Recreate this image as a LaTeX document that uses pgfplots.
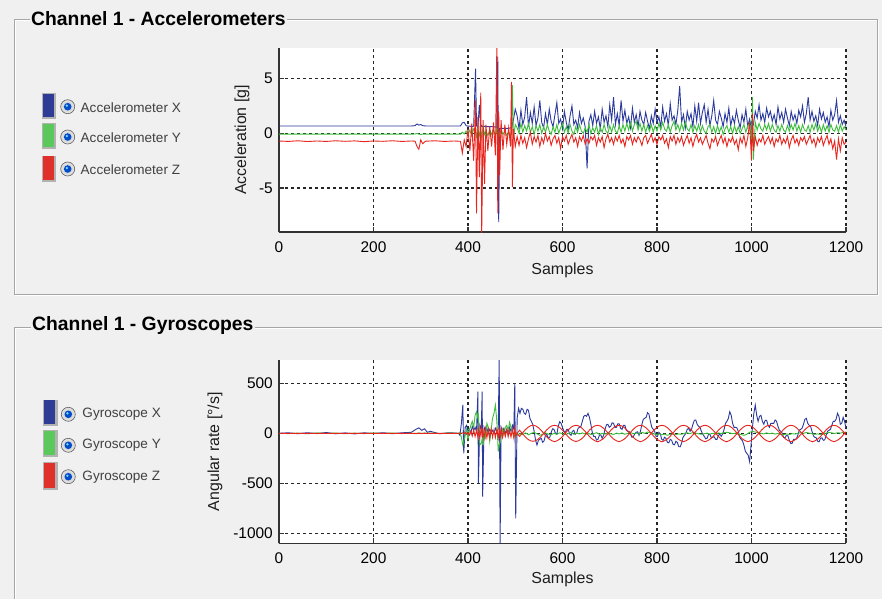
\documentclass[border=0pt]{standalone}
\usepackage{fontspec}
\setmainfont{Liberation Sans}
\usepackage{pgfplots}
\usepackage{pgfplotstable}
\pgfplotsset{compat=1.18}
\definecolor{bg}{HTML}{F0F0F0}
\definecolor{sblue}{HTML}{2B3A9E}
\definecolor{sgreen}{HTML}{3DBE3D}
\definecolor{sred}{HTML}{E8251E}
\definecolor{bblue}{HTML}{2E3C96}
\definecolor{bgreen}{HTML}{5AC85A}
\definecolor{bred}{HTML}{E0302A}
\definecolor{axgray}{HTML}{333333}
\definecolor{txt}{HTML}{1E1E1E}

\pgfplotstableread{
x ax ay az
0 0.67 -0.08 -0.70
20 0.67 -0.08 -0.74
40 0.67 -0.08 -0.68
60 0.67 -0.07 -0.75
80 0.67 -0.08 -0.70
100 0.67 -0.08 -0.74
120 0.67 -0.08 -0.68
140 0.67 -0.08 -0.73
160 0.67 -0.08 -0.69
180 0.67 -0.08 -0.76
200 0.67 -0.08 -0.70
220 0.67 -0.08 -0.73
240 0.67 -0.08 -0.68
260 0.67 -0.08 -0.74
280 0.67 -0.08 -0.70
288 0.70 -0.06 -0.72
292 0.85 0.00 -1.20
296 0.75 -0.08 -1.45
300 0.80 -0.10 -0.60
304 0.70 -0.08 -0.95
310 0.67 -0.08 -0.72
330 0.67 -0.08 -0.68
350 0.67 -0.08 -0.74
370 0.67 -0.08 -0.70
380 0.67 -0.08 -0.72
384 0.67 -0.08 -0.72
388 0.95 0.10 -1.8
392 1.00 -0.05 -0.6
396 0.70 0.20 -1.2
400 0.65 -0.10 0.4
404 0.66 0.30 -1.6
408 0.60 -0.20 0.9
412 0.65 0.40 -2.5
416 5.90 0.10 3.0
418 0.70 -0.30 -7.3
421 0.55 0.50 1.5
424 2.60 -0.20 -4.0
427 0.60 0.30 3.7
429 0.70 -0.40 -9.1
432 0.55 0.60 1.2
435 0.65 -0.10 -4.6
438 0.60 0.20 0.8
442 0.62 -0.20 -1.6
446 0.60 0.30 0.6
450 0.62 -0.10 -1.2
454 0.58 0.40 1.0
458 0.60 -0.30 -2.0
461 0.50 0.50 7.9
463 7.00 -0.40 -7.3
465 -8.10 0.20 2.0
467 0.45 -0.20 -3.8
470 0.45 0.30 1.2
474 0.45 -0.10 -1.5
478 0.45 0.20 0.8
482 0.45 -0.20 -1.0
486 0.45 0.10 0.5
490 0.50 -0.30 -1.2
492 0.50 0.20 4.7
494 0.80 4.40 -4.9
496 1.20 -0.50 0.4
500 2.20 0.80 -1.2
504 1.6 0.5 -0.3
508 0.4 0.0 -1.1
512 2.1 0.9 -0.2
516 0.8 0.1 -0.9
520 1.5 0.7 -0.4
524 3.3 0.2 -1.3
528 0.6 0.9 -0.5
532 1.9 0.1 0.1
536 0.9 0.6 -1.0
540 2.4 -0.1 -0.3
544 0.7 0.7 -0.8
548 1.4 0.2 -0.2
552 3.0 0.8 -1.2
556 1.0 0.0 -0.4
560 0.5 0.6 -0.9
564 1.8 0.1 0.0
568 0.8 0.8 -0.7
572 2.2 0.2 -0.3
576 1.1 -0.1 -1.1
580 0.6 0.6 -0.5
584 1.7 0.1 -0.2
588 2.8 0.8 -0.9
592 0.9 0.0 -0.4
596 1.3 0.5 -1.4
600 0.4 0.9 -0.3
604 2.0 0.1 -0.7
608 1.0 0.6 -0.2
612 0.3 0.0 -1.0
616 1.6 0.8 -0.5
620 2.5 0.2 -0.1
624 0.8 -0.1 -0.8
628 1.2 0.6 -0.4
632 0.5 0.1 -1.2
636 1.9 0.8 -0.3
640 0.9 0.2 -0.7
644 1.4 0.0 -0.2
648 0.6 0.5 -1.0
652 -3.2 0.1 -0.5
656 1.1 0.8 -0.9
660 1.7 0.0 -0.3
664 0.7 0.5 -0.6
668 2.0 0.1 -0.2
672 0.9 0.7 -1.1
676 1.5 -0.1 -0.4
680 0.4 0.5 -0.8
684 2.2 0.1 -0.3
688 1.0 0.8 -1.3
692 1.6 0.2 -0.5
696 0.6 0.0 -0.1
700 2.6 0.7 -0.8
704 1.2 0.1 -0.4
708 3.3 0.8 -1.0
712 0.8 0.2 -0.3
716 1.8 0.0 -0.7
720 0.7 0.7 -0.2
724 3.0 0.1 -0.9
728 1.1 0.8 -0.5
732 2.1 0.2 -1.2
736 0.9 0.9 -0.3
740 1.5 0.3 -0.6
744 0.5 1.0 -0.2
748 2.3 0.2 -1.0
752 1.0 0.8 -0.4
756 1.7 1.1 -0.8
760 0.6 0.3 -0.3
764 2.0 0.9 -0.6
768 1.2 0.2 -1.1
772 0.8 0.8 -0.4
776 1.9 0.1 -0.2
780 1.1 0.7 -0.9
784 0.4 0.2 -0.5
788 1.6 0.8 -0.1
792 0.9 0.1 -0.8
796 2.2 0.7 -0.4
800 1.0 0.2 -1.0
804 1.5 0.9 -0.3
808 0.6 0.3 -0.6
812 2.4 1.0 -0.2
816 1.1 0.4 -0.9
820 1.8 0.2 -0.5
824 0.7 0.8 -1.3
828 2.7 0.1 -0.3
832 1.2 0.7 -0.7
836 1.6 1.1 -0.2
840 0.8 0.3 -1.0
844 2.1 0.8 -0.4
848 4.3 0.2 -0.8
852 1.0 0.9 -0.3
856 1.7 0.3 -1.1
860 0.5 1.0 -0.6
864 2.0 0.4 -0.2
868 1.2 0.2 -0.9
872 1.8 0.8 -0.4
876 0.6 0.1 -1.2
880 2.5 0.7 -0.5
884 1.1 0.2 -0.1
888 2.8 0.8 -0.8
892 0.9 0.1 -0.4
896 1.9 0.7 -1.0
900 2.6 0.2 -0.6
904 1.0 0.0 -0.2
908 2.2 0.6 -0.9
912 0.7 0.8 -1.4
916 1.6 0.1 -0.5
920 3.0 0.6 -0.8
924 1.2 0.0 -0.3
928 0.8 0.7 -1.1
932 2.0 0.1 -0.6
936 1.4 0.6 -0.2
940 0.6 -0.1 -0.9
944 1.8 0.4 -0.4
948 1.0 0.7 -1.2
952 2.3 0.1 -0.5
956 0.7 0.6 -0.8
960 1.5 0.0 -0.3
964 0.9 0.7 -1.0
968 2.1 0.1 -0.6
972 1.2 0.6 -1.5
976 0.5 0.0 -0.4
980 1.7 0.4 -0.9
984 1.0 0.8 -0.2
988 2.2 0.1 -1.2
992 0.6 0.7 -0.4
996 1.3 0.9 1.0
1000 0.4 -0.6 -2.5
1002 1.0 3.3 1.8
1004 0.8 -2.4 -1.6
1008 2.0 1.0 -0.3
1012 1.4 0.3 -1.1
1016 2.6 0.9 -0.5
1020 1.2 0.4 -0.8
1024 1.8 0.2 -0.2
1028 1.0 0.8 -1.0
1032 2.3 0.3 -0.6
1036 1.5 0.9 -0.3
1040 2.0 0.2 -0.9
1044 1.1 0.8 -0.4
1048 1.7 0.3 -1.2
1052 0.8 0.1 -0.5
1056 2.4 0.7 -0.8
1060 1.3 0.2 -0.2
1064 1.9 0.8 -1.0
1068 1.0 0.3 -0.5
1072 2.2 0.1 -0.9
1076 1.4 0.7 -0.3
1080 0.7 0.2 -1.3
1084 2.0 0.8 -0.6
1088 1.2 0.3 -0.2
1092 1.7 0.9 -0.9
1096 0.9 0.2 -0.5
1100 2.1 0.7 -1.1
1104 1.5 0.1 -0.4
1108 2.5 0.8 -0.7
1112 1.0 0.3 -0.3
1116 1.8 0.2 -1.0
1120 3.3 0.7 -0.6
1124 1.2 0.1 -0.2
1128 2.0 0.8 -0.9
1132 1.1 0.3 -0.5
1136 1.6 0.9 -1.2
1140 0.7 0.2 -0.4
1144 2.2 0.7 -0.8
1148 1.3 0.1 -0.3
1152 1.9 0.8 -1.1
1156 1.0 0.2 -0.6
1160 1.5 0.7 -0.2
1164 0.6 0.1 -1.0
1168 2.1 0.8 -0.5
1172 1.2 0.3 -1.4
1176 1.7 0.2 -0.7
1180 3.0 0.7 -2.4
1184 1.0 0.1 -0.5
1188 1.6 0.8 -1.6
1192 0.8 0.2 -0.4
1196 1.2 0.6 -1.0
1200 0.6 0.3 -0.8
}\acctable

% gyroscope X
\pgfplotstableread{
x gx
0 0
20 5
40 -4
60 6
80 -3
100 8
120 -5
140 4
160 -6
180 5
200 -3
220 6
240 -4
260 5
280 10
290 40
296 55
302 30
308 45
314 10
320 20
340 -5
360 6
380 0
383 -20
386 100
389 283
391 -200
394 60
397 80
400 20
403 40
406 0
409 70
412 30
415 60
418 20
421 416
422 -497
425 80
428 40
430 416
431 -634
434 60
437 20
440 50
443 0
446 40
449 10
452 30
455 0
458 50
461 20
464 40
466 740
468 -1100
470 60
473 20
476 50
479 0
482 40
485 10
488 60
491 20
494 80
497 40
499 500
501 -850
504 150
507 250
510 200
513 250
516 240
519 200
522 190
525 240
528 230
531 150
534 120
537 90
540 20
543 -70
546 -117
549 -70
552 -60
555 -50
558 -90
561 -75
564 -20
567 -10
570 -50
573 -40
576 10
579 45
582 40
585 0
588 -10
591 70
594 116
597 100
600 60
603 20
606 10
609 40
612 40
615 -5
618 -20
621 20
624 30
627 -10
630 0
633 50
636 60
639 70
642 120
645 170
648 180
651 170
654 200
657 160
660 90
663 10
666 -30
669 -30
672 -67
675 -60
678 -20
681 -15
684 -50
687 -20
690 40
693 85
696 90
699 60
702 70
705 105
708 100
711 60
714 60
717 95
720 95
723 50
726 40
729 80
732 80
735 30
738 20
741 20
744 -10
747 -40
750 -34
753 -5
756 10
759 15
762 -20
765 20
768 90
771 140
774 150
777 160
780 206
783 190
786 120
789 60
792 40
795 20
798 -30
801 -30
804 10
807 -5
810 -60
813 -70
816 -40
819 -50
822 -90
825 -95
828 -60
831 -70
834 -110
837 -115
840 -80
843 -90
846 -134
849 -135
852 -100
855 -40
858 -20
861 0
864 40
867 50
870 20
873 40
876 90
879 130
882 133
885 90
888 70
891 60
894 20
897 -10
900 -30
903 -55
906 -50
909 -10
912 -10
915 -45
918 -40
921 -35
924 -60
927 -60
930 -20
933 -10
936 -30
939 -5
942 40
945 100
948 120
951 150
954 216
957 180
960 100
963 60
966 60
969 55
972 20
975 -40
978 -60
981 -75
984 -120
987 -180
990 -200
993 -220
996 -284
999 -120
1002 60
1005 200
1008 283
1011 180
1014 120
1017 170
1020 180
1023 120
1026 90
1029 130
1032 130
1035 80
1038 60
1041 100
1044 100
1047 100
1050 133
1053 120
1056 70
1059 30
1062 20
1065 0
1068 -40
1071 -45
1074 -20
1077 -25
1080 -70
1083 -100
1086 -100
1089 -60
1092 -60
1095 -55
1098 -20
1101 30
1104 40
1107 50
1110 90
1113 140
1116 150
1119 100
1122 80
1125 70
1128 20
1131 -25
1134 -40
1137 -45
1140 -80
1143 -85
1146 -50
1149 -45
1152 -70
1155 -65
1158 -20
1161 20
1164 30
1167 40
1170 80
1173 120
1176 120
1179 140
1182 200
1185 170
1188 90
1191 100
1194 160
1197 120
1200 50
}\gyrobx

% gyroscope Y
\pgfplotstableread{
x gy
0 0
20 -3
40 2
60 -5
80 4
100 -2
120 3
140 -4
160 2
180 -3
200 4
220 -2
240 3
260 -3
280 2
290 -5
296 5
302 -3
308 4
314 -2
320 3
340 -2
360 3
380 0
383 10
386 -40
389 -117
391 -80
394 -20
397 40
400 -60
403 30
406 80
409 120
412 60
415 180
418 216
421 150
422 200
425 -117
428 -100
430 -60
431 -117
434 20
437 -40
440 100
443 60
446 -80
449 40
452 150
455 200
458 283
461 120
464 -183
466 -120
468 -80
470 -30
473 40
476 -20
479 60
482 80
485 30
488 110
491 60
494 20
497 -40
499 -20
501 10
504 -20
507 -10
510 -5
516 -10
522 5
528 -15
534 0
540 10
546 -5
552 -20
558 -10
564 5
570 -8
576 -15
582 0
588 -10
594 5
600 -5
606 -12
612 -3
618 8
624 -10
630 0
636 -6
642 4
648 -8
654 2
660 -12
666 -4
672 6
678 -10
684 0
690 -8
696 5
702 -4
708 -12
714 2
720 -6
726 4
732 -10
738 0
744 8
750 -5
756 3
762 -8
768 10
774 0
780 12
786 5
792 -4
798 -12
804 -6
810 -15
816 -8
822 -20
828 -10
834 -5
840 -12
846 -6
852 -10
858 0
864 5
870 -3
876 8
882 2
888 -5
894 -10
900 -4
906 2
912 -8
918 0
924 -6
930 4
936 -2
942 6
948 10
954 4
960 -4
966 2
972 -6
978 -12
984 -20
990 -10
996 10
1002 20
1008 12
1014 6
1020 0
1026 -6
1032 4
1038 -4
1044 2
1050 -8
1056 0
1062 -10
1068 -14
1074 -6
1080 -12
1086 -4
1092 -8
1098 0
1104 6
1110 0
1116 8
1122 2
1128 -4
1134 -10
1140 -6
1146 -12
1152 -4
1158 2
1164 8
1170 4
1176 -2
1182 6
1188 2
1194 8
1200 10
}\gyroby

% gyroscope Z (two interleaved traces after sample 505)
\pgfplotstableread{
x r1 r2
0 0 nan
200 0 nan
380 0 nan
383 0 nan
386 2 nan
389 5 nan
391 -5 nan
394 8 nan
397 -10 nan
400 12 nan
403 -18 nan
406 22 nan
409 -28 nan
412 35 nan
415 -32 nan
418 30 nan
421 -40 nan
422 42 nan
425 -50 nan
428 55 nan
430 -40 nan
431 50 nan
434 -55 nan
437 48 nan
440 -45 nan
443 40 nan
446 -48 nan
449 42 nan
452 -40 nan
455 35 nan
458 -42 nan
461 40 nan
464 -48 nan
466 55 nan
468 -52 nan
470 45 nan
473 -40 nan
476 35 nan
479 -30 nan
482 38 nan
485 -35 nan
488 30 nan
491 -38 nan
494 42 nan
497 -45 nan
499 50 nan
501 -30 nan
504 0 0
509.1 31 -31
514.8 0 0
520.4 -31 31
526.1 -57 57
531.8 -74 74
537.5 -80 82
543.2 -74 74
548.9 -57 57
554.6 -31 31
560.3 0 0
565.9 31 -31
571.6 57 -57
577.3 74 -74
583.0 80 -84
588.7 74 -74
594.4 57 -57
600.1 31 -31
605.8 0 0
611.4 -31 31
617.1 -57 57
622.8 -74 74
628.5 -82 80
634.2 -74 74
639.9 -57 57
645.6 -31 31
651.3 0 0
656.9 31 -31
662.6 57 -57
668.3 74 -74
674.0 80 -85
679.7 74 -74
685.4 57 -57
691.1 31 -31
696.8 0 0
702.4 -31 31
708.1 -57 57
713.8 -74 74
719.5 -84 80
725.2 -74 74
730.9 -57 57
736.6 -31 31
742.3 0 0
747.9 31 -31
753.6 57 -57
759.3 74 -74
765.0 80 -84
770.7 74 -74
776.4 57 -57
782.1 31 -31
787.8 0 0
793.4 -31 31
799.1 -57 57
804.8 -74 74
810.5 -85 80
816.2 -74 74
821.9 -57 57
827.6 -31 31
833.3 0 0
838.9 31 -31
844.6 57 -57
850.3 74 -74
856.0 80 -84
861.7 74 -74
867.4 57 -57
873.1 31 -31
878.8 0 0
884.4 -31 31
890.1 -57 57
895.8 -74 74
901.5 -84 80
907.2 -74 74
912.9 -57 57
918.6 -31 31
924.3 0 0
929.9 31 -31
935.6 57 -57
941.3 74 -74
947.0 80 -85
952.7 74 -74
958.4 57 -57
964.1 31 -31
969.8 0 0
975.4 -31 31
981.1 -57 57
986.8 -74 74
992.5 -84 80
998.2 -74 74
1003.9 -57 57
1009.6 -31 31
1015.3 0 0
1020.9 31 -31
1026.6 57 -57
1032.3 74 -74
1038.0 80 -84
1043.7 74 -74
1049.4 57 -57
1055.1 31 -31
1060.8 0 0
1066.4 -31 31
1072.1 -57 57
1077.8 -74 74
1083.5 -84 80
1089.2 -74 74
1094.9 -57 57
1100.6 -31 31
1106.3 0 0
1111.9 31 -31
1117.6 57 -57
1123.3 74 -74
1129.0 80 -85
1134.7 74 -74
1140.4 57 -57
1146.1 31 -31
1151.8 0 0
1157.4 -31 31
1163.1 -57 57
1168.8 -74 74
1174.5 -84 80
1180.2 -74 74
1185.9 -57 57
1191.6 -31 31
1197.3 0 0
1200 15 -15
}\gyrobz

\pgfplotsset{
  panelaxis/.style={
    scale only axis, width=567bp, xmin=0, xmax=1200,
    axis x line=bottom, axis y line=left,
    axis line style={axgray, line width=1.6bp, -},
    axis background/.style={fill=white},
    xtick={0,200,400,600,800,1000,1200},
    xticklabels={0,200,400,600,800,1000,1200},
    tick align=inside, major tick length=5bp,
    tick style={axgray, line width=1.3bp},
    grid=major,
    major grid style={black!85, line width=1.3bp, dash pattern=on 3bp off 3bp},
    unbounded coords=discard,
    tick label style={font=\fontsize{15.5}{16}\selectfont, text=black},
    xticklabel style={anchor=base, inner sep=0pt, yshift=-20.5bp},
    yticklabel style={anchor=east, inner sep=0pt, xshift=-6bp},
    label style={font=\fontsize{16}{16}\selectfont, text=txt},
    xlabel={Samples},
  }
}

\begin{document}
\begin{tikzpicture}
\useasboundingbox (0,0) rectangle (882bp,-599bp);
\clip (0,0) rectangle (882bp,-599bp);
\fill[bg] (0,0) rectangle (882bp,-599bp);
\begin{scope}[x=1bp,y=-1bp]
  % panel frames (etched)
  \draw[white, line width=1bp] (15,20) rectangle (878,295);
  \draw[gray!70, line width=1bp] (14,19) rectangle (877,294);
  \draw[white, line width=1bp] (15,328) rectangle (895,620);
  \draw[gray!70, line width=1bp] (14,327) rectangle (894,620);
  % titles
  \node[fill=bg, anchor=west, inner sep=1.5bp, font=\fontsize{19.4}{22}\bfseries\selectfont, text=black] at (29.5,19) {Channel 1 - Accelerometers};
  \node[fill=bg, anchor=west, inner sep=1.5bp, font=\fontsize{19.4}{22}\bfseries\selectfont, text=black] at (30.5,326) {Channel 1 - Gyroscopes};
  % legend buttons, top
  \foreach \c/\yt/\yb/\ym/\lab in {bblue/93/119/106.7/{Accelerometer X}, bgreen/123/149/137/{Accelerometer Y}, bred/155.5/182/169/{Accelerometer Z}}{
    \fill[gray!60] (41.5,\yt) rectangle (56,\yb);
    \fill[\c] (42.5,\yt+0.8) rectangle (54,\yb-2);
    \fill[gray!25] (67.7,\ym) circle (7bp);
    \draw[gray!75!black, line width=0.6bp] (67.7,\ym) circle (7bp);
    \fill[white!70!gray] (67.7,\ym) circle (5.2bp);
    \fill[black!30!blue!70!cyan] (67.7,\ym) circle (3.8bp);
    \fill[cyan!50!white] (66.8,\ym-1) circle (1.3bp);
    \node[anchor=west, inner sep=0pt, font=\fontsize{13.6}{15}\selectfont, text=txt!85!white] at (80.5,\ym+0.6) {\lab};
  }
  % legend buttons, bottom
  \foreach \c/\yt/\yb/\ym/\lab in {bblue/399.5/426/414.3/{Gyroscope X}, bgreen/430/456.5/445.3/{Gyroscope Y}, bred/462/490/476.7/{Gyroscope Z}}{
    \fill[gray!60] (42.5,\yt) rectangle (57.5,\yb);
    \fill[\c] (43.5,\yt+0.8) rectangle (55,\yb-2);
    \fill[gray!25] (68.3,\ym) circle (7bp);
    \draw[gray!75!black, line width=0.6bp] (68.3,\ym) circle (7bp);
    \fill[white!70!gray] (68.3,\ym) circle (5.2bp);
    \fill[black!30!blue!70!cyan] (68.3,\ym) circle (3.8bp);
    \fill[cyan!50!white] (67.4,\ym-1) circle (1.3bp);
    \node[anchor=west, inner sep=0pt, font=\fontsize{13.6}{15}\selectfont, text=txt!85!white] at (82.3,\ym) {\lab};
  }
\end{scope}

% ---------- Accelerometers ----------
\begin{axis}[panelaxis,
  at={(279bp,-232bp)}, anchor=south west, height=184bp,
  ymin=-9.0, ymax=7.78,
  ytick={-5,0,5}, yticklabels={-5,0,5},
  ylabel={Acceleration [g]},
  ylabel style={at={(axis description cs:-0.0653,0.5)}, anchor=center},
  xlabel style={at={(axis description cs:0.5,-0.21)}, anchor=center},
]
\addplot[sblue, line width=0.9bp] table[x=x, y=ax] {\acctable};
\addplot[sgreen, line width=0.9bp] table[x=x, y=ay] {\acctable};
\addplot[sred, line width=0.9bp] table[x=x, y=az] {\acctable};
\end{axis}

% ---------- Gyroscopes ----------
\begin{axis}[panelaxis,
  at={(279bp,-543.3bp)}, anchor=south west, height=183.3bp,
  ymin=-1100, ymax=733,
  ytick={-1000,-500,0,500}, yticklabels={-1000,-500,0,500},
  ylabel={Angular rate [°/s]},
  ylabel style={at={(axis description cs:-0.113,0.5)}, anchor=center},
  xlabel style={at={(axis description cs:0.5,-0.196)}, anchor=center},
]
\addplot[sblue, line width=0.9bp] table[x=x, y=gx] {\gyrobx};
\addplot[sgreen, line width=0.9bp] table[x=x, y=gy] {\gyroby};
\addplot[sred, line width=0.9bp] table[x=x, y=r1] {\gyrobz};
\addplot[sred, line width=0.9bp] table[x=x, y=r2] {\gyrobz};
\end{axis}
\end{tikzpicture}
\end{document}
